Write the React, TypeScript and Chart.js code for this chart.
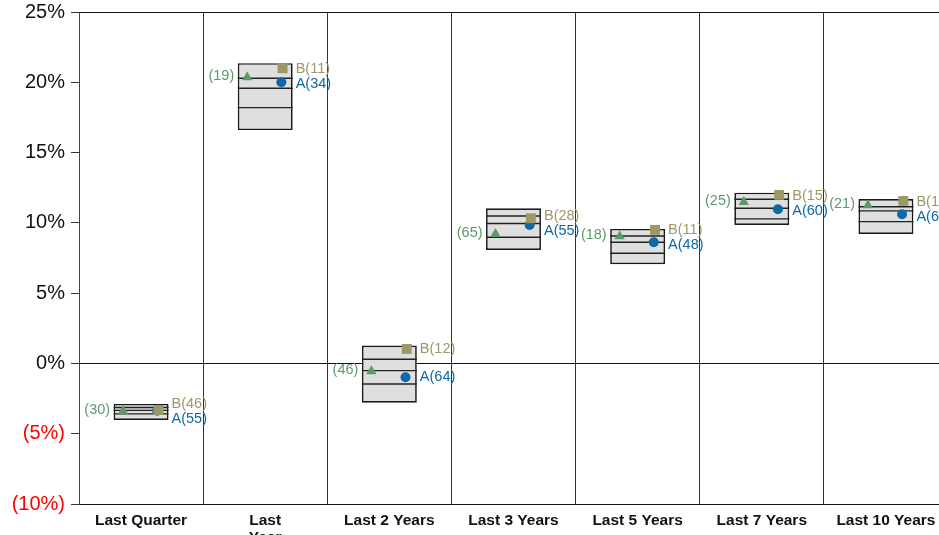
import { useEffect, useRef } from "react";
import { Chart, registerables } from "chart.js";

Chart.register(...registerables);

// ---- Data ----
const categories: (string | string[])[] = [
  "Last Quarter",
  ["Last", "Year"],
  "Last 2 Years",
  "Last 3 Years",
  "Last 5 Years",
  "Last 7 Years",
  "Last 10 Years",
];
const yMin = -10;
const yMax = 25;
const yStep = 5;

// box percentiles (top to bottom)
const p95 = [-2.88, 21.36, 1.27, 11.04, 9.57, 12.15, 11.7];
const p75 = [-3.13, 20.29, 0.3, 10.49, 9.07, 11.68, 11.15];
const p50 = [-3.34, 19.58, -0.51, 9.95, 8.62, 11.04, 10.85];
const p25 = [-3.59, 18.2, -1.46, 8.98, 7.84, 10.28, 10.09];
const p5 = [-4.02, 16.6, -2.79, 8.07, 7.06, 9.85, 9.21];

// markers
const peerValues = [-3.38, 20.35, -0.56, 9.2, 9.04, 11.48, 11.25];
const bValues = [-3.31, 21.0, 1.03, 10.33, 9.5, 11.99, 11.56];
const aValues = [-3.36, 20.0, -0.98, 9.85, 8.62, 10.97, 10.61];

const peerLabels = ["(30)", "(19)", "(46)", "(65)", "(18)", "(25)", "(21)"];
const bLabels = ["B(46)", "B(11)", "B(12)", "B(28)", "B(11)", "B(15)", "B(14)"];
const aLabels = ["A(55)", "A(34)", "A(64)", "A(55)", "A(48)", "A(60)", "A(62)"];

const GREEN = "#5c9a6a";
const OLIVE = "#9d9966";
const BLUE = "#0b69a6";
const FONT = '"Liberation Sans", Arial, sans-serif';

const boxLinesPlugin = {
  id: "boxLines",
  afterDatasetDraw(chart: any, args: any) {
    if (args.index !== 0) return;
    const ctx = chart.ctx;
    const yScale = chart.scales.y;
    const meta = chart.getDatasetMeta(0);
    ctx.save();
    ctx.strokeStyle = "#222";
    ctx.lineWidth = 1.4;
    meta.data.forEach((bar: any, i: number) => {
      const { x, width } = bar.getProps(["x", "width"], true);
      [p75[i], p50[i], p25[i]].forEach((v) => {
        const py = yScale.getPixelForValue(v);
        ctx.beginPath();
        ctx.moveTo(x - width / 2, py);
        ctx.lineTo(x + width / 2, py);
        ctx.stroke();
      });
    });
    ctx.restore();
  },
};

const labelsPlugin = {
  id: "markerLabels",
  afterDatasetsDraw(chart: any) {
    const ctx = chart.ctx;
    const barMeta = chart.getDatasetMeta(0);
    const aMeta = chart.getDatasetMeta(1);
    const bMeta = chart.getDatasetMeta(2);
    const pMeta = chart.getDatasetMeta(3);
    ctx.save();
    ctx.font = `14.5px ${FONT}`;
    ctx.textBaseline = "middle";
    barMeta.data.forEach((bar: any, i: number) => {
      const { x, width } = bar.getProps(["x", "width"], true);
      const left = x - width / 2;
      const right = x + width / 2;
      const py = pMeta.data[i].y;
      let by = bMeta.data[i].y;
      let ay = aMeta.data[i].y;
      if (ay - by < 15) {
        const mid = (ay + by) / 2 + 1.5;
        by = mid - 7.5;
        ay = mid + 7.5;
      }
      ctx.textAlign = "right";
      ctx.fillStyle = GREEN;
      ctx.fillText(peerLabels[i], left - 3.5, py - 1);
      ctx.textAlign = "left";
      ctx.fillStyle = OLIVE;
      ctx.fillText(bLabels[i], right + 3, by);
      ctx.fillStyle = BLUE;
      ctx.fillText(aLabels[i], right + 3, ay);
    });
    ctx.restore();
  },
};

export default function App() {
  const canvasRef = useRef<HTMLCanvasElement | null>(null);

  useEffect(() => {
    if (!canvasRef.current) return;
    const chart = new Chart(canvasRef.current, {
      type: "bar",
      data: {
        labels: categories as any,
        datasets: [
          {
            type: "bar",
            data: p5.map((lo, i) => [lo, p95[i]]) as any,
            backgroundColor: "#dfdfdf",
            borderColor: "#1a1a1a",
            borderWidth: 1.7,
            borderSkipped: false,
            grouped: false,
            barPercentage: 0.4425,
            categoryPercentage: 1,
            xAxisID: "x",
            order: 10,
          } as any,
          {
            type: "line",
            data: aValues.map((v, i) => ({ x: i + 0.13, y: v })),
            showLine: false,
            pointStyle: "circle",
            pointRadius: 5,
            pointBorderWidth: 0,
            pointBackgroundColor: BLUE,
            xAxisID: "x2",
            order: 3,
          } as any,
          {
            type: "line",
            data: bValues.map((v, i) => ({ x: i + 0.14, y: v })),
            showLine: false,
            pointStyle: "rect",
            pointRadius: 7,
            pointBorderWidth: 0,
            pointBackgroundColor: OLIVE,
            xAxisID: "x2",
            order: 2,
          } as any,
          {
            type: "line",
            data: peerValues.map((v, i) => ({ x: i - 0.145, y: v })),
            showLine: false,
            pointStyle: "triangle",
            pointRadius: 6,
            pointBorderWidth: 0,
            pointBackgroundColor: GREEN,
            xAxisID: "x2",
            order: 1,
          } as any,
        ],
      },
      options: {
        animation: false,
        responsive: true,
        maintainAspectRatio: false,
        events: [],
        layout: { padding: { top: 7, right: 12, left: 0, bottom: 0 } },
        plugins: {
          legend: { display: false },
          tooltip: { enabled: false },
        },
        scales: {
          x: {
            type: "category",
            offset: true,
            grid: {
              offset: true,
              color: "#333",
              lineWidth: 1,
              drawTicks: false,
            },
            border: { display: true, color: "#111", width: 1 },
            ticks: {
              color: "#111",
              padding: 8,
              maxRotation: 0,
              autoSkip: false,
              font: { family: FONT, size: 15.5, weight: "bold", lineHeight: 1.1 },
            },
            afterFit: (scale: any) => {
              scale.height = 56;
            },
          },
          x2: {
            type: "linear",
            min: -0.5,
            max: 6.5,
            offset: false,
            display: false,
          },
          y: {
            type: "linear",
            min: yMin,
            max: yMax,
            ticks: {
              stepSize: yStep,
              padding: 6,
              color: (ctx: any) => (ctx.tick && ctx.tick.value < 0 ? "#ff0000" : "#111"),
              font: { family: FONT, size: 20 },
              callback: (v: any) => (v < 0 ? `(${-v}%)` : `${v}%`),
            },
            grid: {
              color: (ctx: any) =>
                ctx.tick && (ctx.tick.value === 0 || ctx.tick.value === yMax)
                  ? "#111"
                  : "rgba(0,0,0,0)",
              tickColor: "#333",
              tickLength: 8,
              drawTicks: true,
            },
            border: { display: true, color: "#444", width: 1 },
            afterFit: (scale: any) => {
              scale.width = 79;
            },
          },
        },
      },
      plugins: [boxLinesPlugin, labelsPlugin],
    });
    return () => chart.destroy();
  }, []);

  return (
    <div
      style={{
        position: "fixed",
        left: 0,
        top: 0,
        width: 939,
        height: 535,
        overflow: "hidden",
        background: "#fff",
      }}
    >
      <div style={{ position: "relative", top: -6, width: 960, height: 566 }}>
        <canvas ref={canvasRef} />
      </div>
    </div>
  );
}
